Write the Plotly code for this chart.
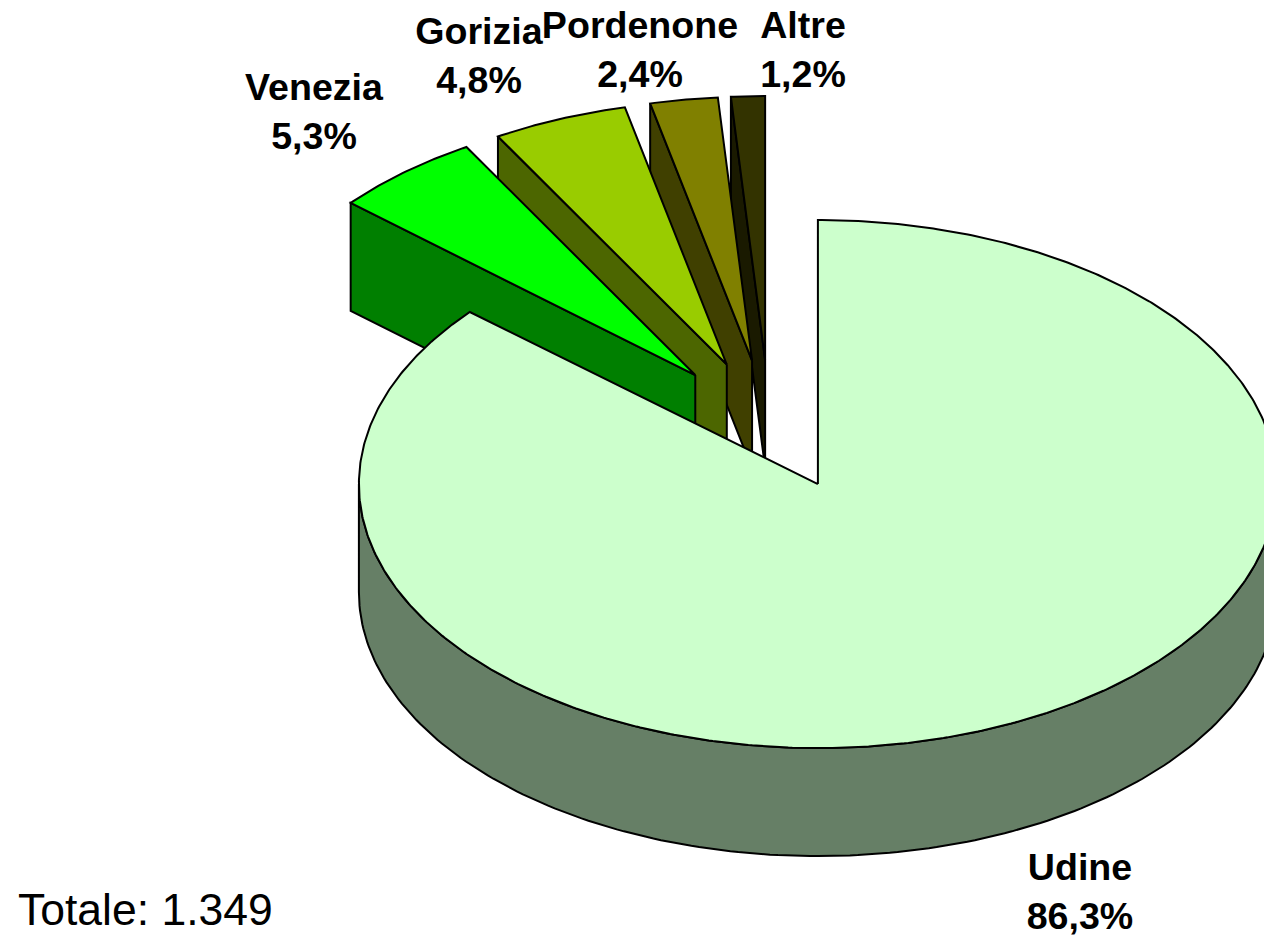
import numpy as np
import plotly.graph_objects as go

# =============================================================================
# Data
# =============================================================================
cities = ['Udine', 'Venezia', 'Gorizia', 'Pordenone', 'Altre']
shares = [86.3, 5.3, 4.8, 2.4, 1.2]
total_label = 'Totale: 1.349'

# =============================================================================
# Styling / pseudo-3D pie geometry (pixels)
# =============================================================================
top_colors = ['#CCFFCC', '#00FF00', '#99CC00', '#808000', '#333300']
wall_colors = ['#667F66', '#007F00', '#4C6600', '#404000', '#1A1A00']
label_x = [1080, 314, 479, 640, 803]
label_y = [895, 115, 59, 53, 53]

cx, cy = 769.5, 425.0   # centre before the slices are pulled out
rx, ry = 459.0, 264.0   # ellipse radii of the top face
ex, ey = 116.0, 65.0    # explosion along each slice's mid angle
depth = 108.0           # height of the extruded pie
small_r = 0.99          # the pulled-out slices come out a touch narrower


def point(apex, angle_deg, r=1.0):
    a = np.radians(angle_deg)
    return apex[0] + r * rx * np.sin(a), apex[1] - ry * np.cos(a)


def add_poly(fig, xs, ys, color):
    fig.add_trace(go.Scatter(
        x=xs, y=ys, mode='lines', fill='toself', fillcolor=color,
        line=dict(color='black', width=2), hoverinfo='skip', showlegend=False
    ))


fig = go.Figure()

# Angles run clockwise from 12 o'clock, in share order
edges = np.concatenate([[0.0], np.cumsum(shares)]) * 3.6
edges[-1] = 360.0

# Paint back to front, so Udine goes last
for i in range(len(cities) - 1, -1, -1):
    start, end = edges[i], edges[i + 1]
    mid = np.radians((start + end) / 2.0)
    apex = (cx + ex * np.sin(mid), cy - ey * np.cos(mid))
    r = 1.0 if i == 0 else small_r

    if i == 0:
        # Outer wall: only the front half of the rim shows
        angles = np.linspace(90, 270, 181)
        wx, wy = point(apex, angles, r)
        add_poly(fig,
                 list(wx) + list(wx[::-1]) + [wx[0]],
                 list(wy) + list(wy[::-1] + depth) + [wy[0]],
                 wall_colors[i])
    else:
        # Cut face along the slice's first radius
        ox, oy = point(apex, start, r)
        add_poly(fig,
                 [apex[0], ox, ox, apex[0], apex[0]],
                 [apex[1], oy, oy + depth, apex[1] + depth, apex[1]],
                 wall_colors[i])

    angles = np.linspace(start, end, max(int(end - start) * 2, 12))
    tx, ty = point(apex, angles, r)
    add_poly(fig,
             [apex[0]] + list(tx) + [apex[0]],
             [apex[1]] + list(ty) + [apex[1]],
             top_colors[i])

# Labels
label_text = [
    '<b>%s<br>%s%%</b>' % (c, ('%.1f' % s).replace('.', ','))
    for c, s in zip(cities, shares)
]
fig.add_trace(go.Scatter(
    x=label_x, y=label_y, mode='text', text=label_text, textposition='middle center',
    textfont=dict(family='Liberation Sans', size=37.6, color='black'),
    hoverinfo='skip', showlegend=False, cliponaxis=False
))
fig.add_trace(go.Scatter(
    x=[18], y=[914], mode='text', text=[total_label], textposition='middle right',
    textfont=dict(family='Liberation Sans', size=44.5, color='black'),
    hoverinfo='skip', showlegend=False, cliponaxis=False
))

fig.update_layout(
    width=1264, height=939,
    margin=dict(l=0, r=0, t=0, b=0),
    paper_bgcolor='white', plot_bgcolor='white',
    xaxis=dict(range=[0, 1264], visible=False, fixedrange=True),
    yaxis=dict(range=[939, 0], visible=False, fixedrange=True),
    showlegend=False
)
fig.write_html("out.html", post_script="document.body.style.margin='0';document.body.style.overflow='hidden';",
               config=dict(displayModeBar=False))
